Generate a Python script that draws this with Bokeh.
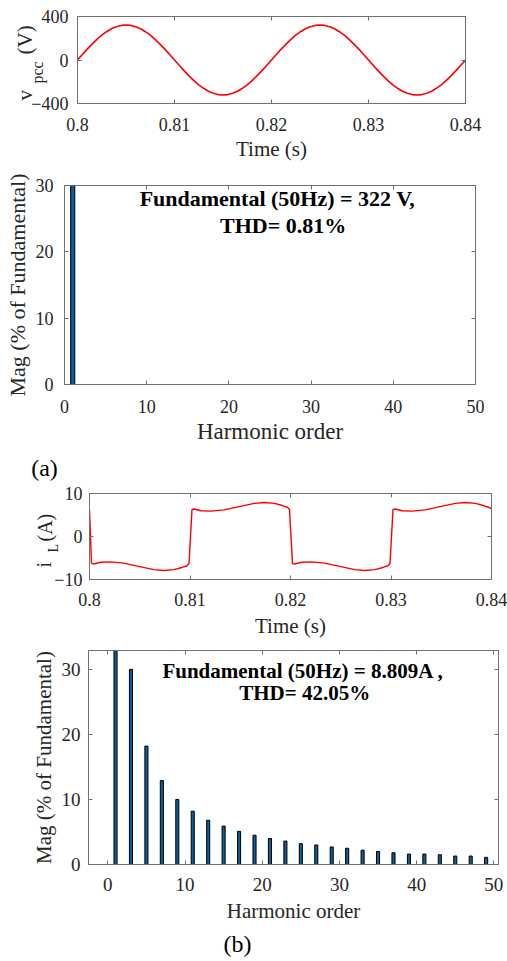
import math
from bokeh.plotting import figure
from bokeh.models import Range1d, LinearAxis, FixedTicker, Label
from bokeh.core.properties import value
from bokeh.layouts import column
from bokeh.embed import file_html
from bokeh.resources import INLINE

# ---------------- data ----------------
# (a) PCC voltage, sampled every 0.5 ms
t_v = [0.8000, 0.8005, 0.8010, 0.8015, 0.8020, 0.8025, 0.8030, 0.8035, 0.8040, 0.8045,
       0.8050, 0.8055, 0.8060, 0.8065, 0.8070, 0.8075, 0.8080, 0.8085, 0.8090, 0.8095,
       0.8100, 0.8105, 0.8110, 0.8115, 0.8120, 0.8125, 0.8130, 0.8135, 0.8140, 0.8145,
       0.8150, 0.8155, 0.8160, 0.8165, 0.8170, 0.8175, 0.8180, 0.8185, 0.8190, 0.8195,
       0.8200, 0.8205, 0.8210, 0.8215, 0.8220, 0.8225, 0.8230, 0.8235, 0.8240, 0.8245,
       0.8250, 0.8255, 0.8260, 0.8265, 0.8270, 0.8275, 0.8280, 0.8285, 0.8290, 0.8295,
       0.8300, 0.8305, 0.8310, 0.8315, 0.8320, 0.8325, 0.8330, 0.8335, 0.8340, 0.8345,
       0.8350, 0.8355, 0.8360, 0.8365, 0.8370, 0.8375, 0.8380, 0.8385, 0.8390, 0.8395,
       0.8400]
v_pcc = [0, 50, 100, 146, 189, 228, 260, 287, 306, 318,
         322, 318, 306, 287, 260, 228, 189, 146, 100, 50,
         0, -50, -100, -146, -189, -228, -260, -287, -306, -318,
         -322, -318, -306, -287, -260, -228, -189, -146, -100, -50,
         0, 50, 100, 146, 189, 228, 260, 287, 306, 318,
         322, 318, 306, 287, 260, 228, 189, 146, 100, 50,
         0, -50, -100, -146, -189, -228, -260, -287, -306, -318,
         -322, -318, -306, -287, -260, -228, -189, -146, -100, -50,
         0]

# (a) harmonic spectrum of PCC voltage
harm_a = [1]
mag_a = [100]

# (b) load current
t_i = [0.8000, 0.8002, 0.8004, 0.8011, 0.8021, 0.8034, 0.8050, 0.8064, 0.8074, 0.8084, 0.8092, 0.8097, 0.8099,
       0.8102, 0.8104, 0.8111, 0.8121, 0.8134, 0.8150, 0.8164, 0.8174, 0.8184, 0.8192, 0.8197, 0.8199,
       0.8202, 0.8204, 0.8211, 0.8221, 0.8234, 0.8250, 0.8264, 0.8274, 0.8284, 0.8292, 0.8297, 0.8299,
       0.8302, 0.8304, 0.8311, 0.8321, 0.8334, 0.8350, 0.8364, 0.8374, 0.8384, 0.8392, 0.8397, 0.8400]
i_L = [6.2, -6.2, -6.4, -6.0, -5.9, -6.2, -7.0, -7.7, -7.9, -7.7, -7.2, -6.8, -6.3,
       6.3, 6.4, 6.0, 5.9, 6.2, 7.0, 7.7, 7.9, 7.7, 7.2, 6.8, 6.3,
       -6.3, -6.4, -6.0, -5.9, -6.2, -7.0, -7.7, -7.9, -7.7, -7.2, -6.8, -6.3,
       6.3, 6.4, 6.0, 5.9, 6.2, 7.0, 7.7, 7.9, 7.7, 7.2, 6.8, 6.5]

# (b) harmonic spectrum of load current
harm_b = [1, 3, 5, 7, 9, 11, 13, 15, 17, 19, 21, 23, 25,
          27, 29, 31, 33, 35, 37, 39, 41, 43, 45, 47, 49]
mag_b = [100, 30.0, 18.2, 12.9, 10.0, 8.2, 6.8, 5.9, 5.1, 4.5, 4.0, 3.6, 3.2,
         3.0, 2.7, 2.5, 2.2, 2.0, 1.8, 1.6, 1.6, 1.5, 1.3, 1.3, 1.1]

time_ticks = [0.8, 0.81, 0.82, 0.83, 0.84]
time_tick_labels = ["0.8", "0.81", "0.82", "0.83", "0.84"]
harm_ticks = [0, 10, 20, 30, 40, 50]

# ---------------- styling ----------------
SERIF = "Liberation Serif"
TXT = "#262626"
FRAME = "#707070"
BAR_FILL = "#0f5c99"
W = 507


def make_fig(h, left, right, top, bottom, xr, yr, xticks, yticks,
             tick_fs="18px", x_std=9, y_std=9):
    p = figure(width=W, height=h, x_range=Range1d(*xr), y_range=Range1d(*yr),
               output_backend="svg", toolbar_location=None,
               min_border_left=left, min_border_right=right,
               min_border_top=top, min_border_bottom=bottom,
               x_axis_type=None, y_axis_type=None, frame_align=False)
    p.xgrid.visible = False
    p.ygrid.visible = False
    p.outline_line_color = FRAME
    p.outline_line_width = 1
    p.background_fill_color = "white"
    p.border_fill_color = "white"

    def style(ax, show_labels, std):
        ax.major_tick_in = 4
        ax.major_tick_out = 0
        ax.minor_tick_line_color = None
        ax.axis_line_color = FRAME
        ax.major_tick_line_color = FRAME
        ax.major_label_text_font = SERIF
        ax.major_label_text_color = TXT
        ax.axis_label_text_font = SERIF
        ax.axis_label_text_color = TXT
        ax.axis_label_text_font_style = "normal"
        if show_labels:
            ax.major_label_text_font_size = tick_fs
            ax.major_label_standoff = std
        else:
            ax.major_label_text_font_size = "1px"
            ax.major_label_standoff = 0

    xb = LinearAxis(ticker=FixedTicker(ticks=xticks))
    style(xb, True, x_std)
    p.add_layout(xb, "below")
    yl = LinearAxis(ticker=FixedTicker(ticks=yticks))
    style(yl, True, y_std)
    p.add_layout(yl, "left")
    xt = LinearAxis(ticker=FixedTicker(ticks=xticks))
    style(xt, False, 0)
    xt.major_label_overrides = {t: "" for t in xticks}
    p.add_layout(xt, "above")
    yr_ax = LinearAxis(ticker=FixedTicker(ticks=yticks))
    style(yr_ax, False, 0)
    yr_ax.major_label_overrides = {t: "" for t in yticks}
    p.add_layout(yr_ax, "right")
    return p, xb, yl


# ---- Figure 1: v_pcc ----
p1, xb1, yl1 = make_fig(165, 77, 42, 16, 62, (0.8, 0.84), (-400, 400),
                        time_ticks, [-400, 0, 400], x_std=14)
xb1.major_label_overrides = dict(zip(time_ticks, time_tick_labels))
xb1.axis_label = "Time (s)"
xb1.axis_label_text_font_size = "21px"
xb1.axis_label_standoff = 3
p1.line(t_v, v_pcc, line_color="#ff0000", line_width=1.6)

# ---- Figure 2: spectrum (a) ----
p2, xb2, yl2 = make_fig(315, 64, 32, 20, 96, (0, 50), (0, 30),
                        harm_ticks, [0, 10, 20, 30], x_std=15, y_std=11)
xb2.axis_label = "Harmonic order"
xb2.axis_label_text_font_size = "23px"
xb2.axis_label_standoff = 3
yl2.axis_label = "Mag (% of Fundamental)"
yl2.axis_label_text_font_size = "22px"
yl2.axis_label_standoff = 3
p2.vbar(x=harm_a, top=mag_a, width=0.5, bottom=0, fill_color=BAR_FILL,
        line_color="black", line_width=1)
for txt, x, y in [("Fundamental (50Hz) = 322 V,", 25.9, 28.0), ("THD= 0.81%", 26.6, 24.0)]:
    p2.add_layout(Label(x=x, y=y, text=txt, text_align="center", text_baseline="middle",
                        text_font=SERIF, text_font_style="bold", text_font_size="22px",
                        text_color="black"))

# ---- Figure 3: i_L ----
p3, xb3, yl3 = make_fig(160, 89, 16, 13, 58, (0.8, 0.84), (-10, 10),
                        time_ticks, [-10, 0, 10], x_std=13, y_std=7)
xb3.major_label_overrides = dict(zip(time_ticks, time_tick_labels))
xb3.axis_label = "Time (s)"
xb3.axis_label_text_font_size = "21px"
xb3.axis_label_standoff = 5
p3.line(t_i, i_L, line_color="#ff0000", line_width=1.4)

# ---- Figure 4: spectrum (b) ----
p4, xb4, yl4 = make_fig(320, 88, 9, 10, 96, (-2.5, 50.6), (0, 32.9),
                        harm_ticks, [0, 10, 20, 30], tick_fs="19px", x_std=13, y_std=8)
xb4.axis_label = "Harmonic order"
xb4.axis_label_text_font_size = "21px"
xb4.axis_label_standoff = 5
yl4.axis_label = "Mag (% of Fundamental)"
yl4.axis_label_text_font_size = "21px"
yl4.axis_label_standoff = 3
p4.vbar(x=harm_b, top=mag_b, width=0.4, bottom=0, fill_color=BAR_FILL,
        line_color="black", line_width=1)
for txt, x, y in [("Fundamental (50Hz) = 8.809A ,", 25.3, 29.8), ("THD= 42.05%", 25.5, 26.3)]:
    p4.add_layout(Label(x=x, y=y, text=txt, text_align="center", text_baseline="middle",
                        text_font=SERIF, text_font_style="bold", text_font_size="21px",
                        text_color="black"))

# ---- transparent overlay (page pixel space) for texts outside the plot boxes ----
H = 960
ov = figure(width=W, height=H, x_range=Range1d(0, W), y_range=Range1d(H, 0),
            output_backend="svg", toolbar_location=None, min_border=0,
            x_axis_type=None, y_axis_type=None, frame_align=False,
            margin=(-H, 0, 0, 0))
ov.xgrid.visible = False
ov.ygrid.visible = False
ov.outline_line_color = None
ov.background_fill_alpha = 0
ov.border_fill_alpha = 0


def rot(texts, xs, ys, fs):
    ov.text(x=xs, y=ys, text=texts, angle=math.pi / 2, text_align="left",
            text_baseline="alphabetic", text_font=value(SERIF),
            text_font_size=value(fs), text_color=TXT)


rot(["v", "(V)"], [24, 24], [100, 54], "21px")
rot(["pcc"], [37], [83], "16px")
rot(["i", "(A)"], [43, 44], [567, 541], "20px")
rot(["L"], [53], [552], "14px")
ov.text(x=[44, 237], y=[467, 943], text=["(a)", "(b)"], text_align="center",
        text_baseline="middle", text_font=value(SERIF), text_font_size=value("24px"),
        text_color="black")

layout = column(p1, p2, p3, p4, ov, spacing=0)
open("out.html", "w").write(file_html(layout, INLINE))
